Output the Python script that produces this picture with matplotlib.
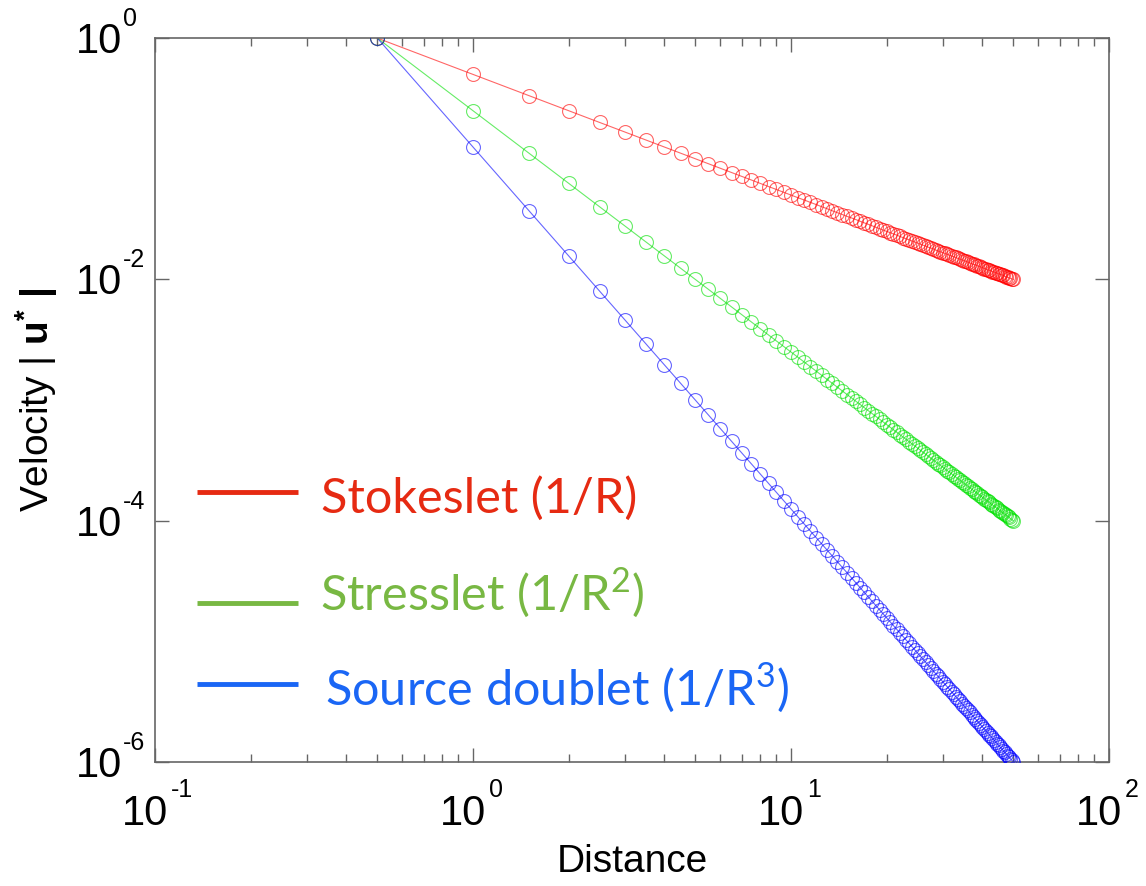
import numpy as np
import matplotlib
matplotlib.use("Agg")
import matplotlib.pyplot as plt
from matplotlib.ticker import LogLocator, FixedLocator, NullFormatter

plt.rcParams['font.family'] = ['Liberation Sans', 'DejaVu Sans']
plt.rcParams['mathtext.fontset'] = 'custom'
plt.rcParams['mathtext.rm'] = 'Lato'
plt.rcParams['mathtext.bf'] = 'Liberation Sans:bold'
plt.rcParams['mathtext.it'] = 'Liberation Sans:italic'

# Distance R (sampled every 0.5 from 0.5 to 50)
distance = [0.5, 1.0, 1.5, 2.0, 2.5, 3.0, 3.5, 4.0, 4.5, 5.0,
            5.5, 6.0, 6.5, 7.0, 7.5, 8.0, 8.5, 9.0, 9.5, 10.0,
            10.5, 11.0, 11.5, 12.0, 12.5, 13.0, 13.5, 14.0, 14.5, 15.0,
            15.5, 16.0, 16.5, 17.0, 17.5, 18.0, 18.5, 19.0, 19.5, 20.0,
            20.5, 21.0, 21.5, 22.0, 22.5, 23.0, 23.5, 24.0, 24.5, 25.0,
            25.5, 26.0, 26.5, 27.0, 27.5, 28.0, 28.5, 29.0, 29.5, 30.0,
            30.5, 31.0, 31.5, 32.0, 32.5, 33.0, 33.5, 34.0, 34.5, 35.0,
            35.5, 36.0, 36.5, 37.0, 37.5, 38.0, 38.5, 39.0, 39.5, 40.0,
            40.5, 41.0, 41.5, 42.0, 42.5, 43.0, 43.5, 44.0, 44.5, 45.0,
            45.5, 46.0, 46.5, 47.0, 47.5, 48.0, 48.5, 49.0, 49.5, 50.0]

# Stokeslet velocity (1/R)
stokeslet = [1, .5, .3333, .25, .2, .1667, .1429, .125, .1111, .1,
             .0909, .0833, .0769, .0714, .0667, .0625, .0588, .0556, .0526, .05,
             .0476, .0455, .0435, .0417, .04, .0385, .037, .0357, .0345, .0333,
             .0323, .0313, .0303, .0294, .0286, .0278, .027, .0263, .0256, .025,
             .0244, .0238, .0233, .0227, .0222, .0217, .0213, .0208, .0204, .02,
             .0196, .0192, .0189, .0185, .0182, .0179, .0175, .0172, .0169, .0167,
             .0164, .0161, .0159, .0156, .0154, .0152, .0149, .0147, .0145, .0143,
             .0141, .0139, .0137, .0135, .0133, .0132, .013, .0128, .0127, .0125,
             .0123, .0122, .012, .0119, .0118, .0116, .0115, .0114, .0112, .0111,
             .011, .0109, .0108, .0106, .0105, .0104, .0103, .0102, .0101, .01]

# Stresslet velocity (1/R^2)
stresslet = [1, .25, .1111, .0625, .04, .02778, .02041, .01563, .01235, .01,
             .008264, .006944, .005917, .005102, .004444, .003906, .00346, .003086, .00277, .0025,
             .002268, .002066, .00189, .001736, .0016, .001479, .001372, .001276, .001189, .001111,
             .001041, .0009766, .0009183, .000865, .0008163, .0007716, .0007305, .0006925, .0006575, .000625,
             .0005949, .0005669, .0005408, .0005165, .0004938, .0004726, .0004527, .000434, .0004165, .0004,
             .0003845, .0003698, .000356, .0003429, .0003306, .0003189, .0003078, .0002973, .0002873, .0002778,
             .0002687, .0002601, .000252, .0002441, .0002367, .0002296, .0002228, .0002163, .00021, .0002041,
             .0001984, .0001929, .0001877, .0001826, .0001778, .0001731, .0001687, .0001644, .0001602, .0001563,
             .0001524, .0001487, .0001452, .0001417, .0001384, .0001352, .0001321, .0001291, .0001262, .0001235,
             .0001208, .0001181, .0001156, .0001132, .0001108, .0001085, .0001063, .0001041, .000102, .0001]

# Source doublet velocity (1/R^3)
doublet = [1, .125, .03704, .01563, .008, .00463, .002915, .001953, .001372, .001,
           7.513e-4, 5.787e-4, 4.552e-4, 3.644e-4, 2.963e-4, 2.441e-4, 2.035e-4, 1.715e-4, 1.458e-4, 1.25e-4,
           1.08e-4, 9.391e-5, 8.219e-5, 7.234e-5, 6.4e-5, 5.69e-5, 5.081e-5, 4.555e-5, 4.1e-5, 3.704e-5,
           3.357e-5, 3.052e-5, 2.783e-5, 2.544e-5, 2.332e-5, 2.143e-5, 1.974e-5, 1.822e-5, 1.686e-5, 1.563e-5,
           1.451e-5, 1.35e-5, 1.258e-5, 1.174e-5, 1.097e-5, 1.027e-5, 9.632e-6, 9.042e-6, 8.5e-6, 8e-6,
           7.538e-6, 7.112e-6, 6.717e-6, 6.351e-6, 6.011e-6, 5.694e-6, 5.4e-6, 5.125e-6, 4.869e-6, 4.63e-6,
           4.406e-6, 4.196e-6, 3.999e-6, 3.815e-6, 3.641e-6, 3.478e-6, 3.325e-6, 3.18e-6, 3.044e-6, 2.915e-6,
           2.794e-6, 2.679e-6, 2.571e-6, 2.468e-6, 2.37e-6, 2.278e-6, 2.19e-6, 2.107e-6, 2.028e-6, 1.953e-6,
           1.882e-6, 1.814e-6, 1.749e-6, 1.687e-6, 1.628e-6, 1.572e-6, 1.519e-6, 1.467e-6, 1.418e-6, 1.372e-6,
           1.327e-6, 1.284e-6, 1.243e-6, 1.204e-6, 1.166e-6, 1.13e-6, 1.096e-6, 1.062e-6, 1.031e-6, 1e-6]

legend_labels = ['Stokeslet (1/R)', 'Stresslet (1/R$^{\\mathrm{2}}$)', 'Source doublet (1/R$^{\\mathrm{3}}$)']
legend_colors = ['#e62a12', '#78b843', '#1a66f5']
curve_colors = ['#ff0000', '#00e000', '#0000ff']

x_ticks = [0.1, 1, 10, 100]
x_exps = ['-1', '0', '1', '2']
y_ticks = [1e-6, 1e-4, 1e-2, 1]
y_exps = ['-6', '-4', '-2', '0']

fig = plt.figure(figsize=(11.46, 8.86), dpi=100)
ax = fig.add_axes([0.1353, 0.140, 0.8324, 0.817])

for ys, c in zip([stokeslet, stresslet, doublet], curve_colors):
    ax.loglog(distance, ys, '-', color=c, lw=0.8, alpha=0.6, zorder=2)
    ax.loglog(distance, ys, 'o', mfc='none', mec=c, ms=10, mew=0.8, alpha=0.6, zorder=3)

ax.set_xlim(0.1, 100)
ax.set_ylim(1e-6, 1)

ax.xaxis.set_major_locator(FixedLocator(x_ticks))
ax.xaxis.set_minor_locator(LogLocator(base=10, subs=np.arange(2, 10)))
ax.xaxis.set_major_formatter(NullFormatter())
ax.xaxis.set_minor_formatter(NullFormatter())
ax.yaxis.set_major_locator(FixedLocator(y_ticks))
ax.yaxis.set_minor_locator(FixedLocator([]))
ax.yaxis.set_major_formatter(NullFormatter())

ax.tick_params(which='both', direction='in', top=True, right=True, color='#666666', width=1.0)
ax.tick_params(which='major', length=10)
ax.tick_params(which='minor', length=6)
for s in ax.spines.values():
    s.set_color('#666666')
    s.set_linewidth(1.2)

# MATLAB-style tick labels: big "10" with raised exponent
for xv, e in zip(x_ticks, x_exps):
    ax.annotate('10', (xv, 0), xycoords=('data', 'axes fraction'), xytext=(13, -63),
                textcoords='offset pixels', ha='right', va='baseline', fontsize=30)
    ax.annotate(e, (xv, 0), xycoords=('data', 'axes fraction'), xytext=(16, -35),
                textcoords='offset pixels', ha='left', va='baseline', fontsize=18)
for yv, e in zip(y_ticks, y_exps):
    ax.annotate('10', (0, yv), xycoords=('axes fraction', 'data'), xytext=(-33, -15),
                textcoords='offset pixels', ha='right', va='baseline', fontsize=30)
    ax.annotate(e, (0, yv), xycoords=('axes fraction', 'data'), xytext=(-32, 12),
                textcoords='offset pixels', ha='left', va='baseline', fontsize=18)

ax.set_xlabel('Distance', fontsize=28)
ax.xaxis.set_label_coords(0.5, -0.138)
ax.xaxis.label.set_va('center')
ax.set_ylabel(r'Velocity | $\mathbf{u}^{\mathbf{*}}$ $\mathbf{|}$', fontsize=28)
ax.yaxis.set_label_coords(-0.124, 0.5)
ax.yaxis.label.set_va('center')

# custom legend
line_y = [0.3729, 0.2196, 0.1077]
text_y = [0.3439, 0.2113, 0.0801]
text_x = [0.1741, 0.1731, 0.1783]
for ly, tx, ty, lab, c in zip(line_y, text_x, text_y, legend_labels, legend_colors):
    ax.plot([0.044, 0.1499], [ly, ly], transform=ax.transAxes, color=c, lw=3.5, solid_capstyle='butt')
    ax.text(tx, ty, lab, transform=ax.transAxes, color=c, fontsize=35,
            family=['Lato', 'DejaVu Sans'], va='baseline', ha='left')

fig.savefig('out.png', dpi=100)
